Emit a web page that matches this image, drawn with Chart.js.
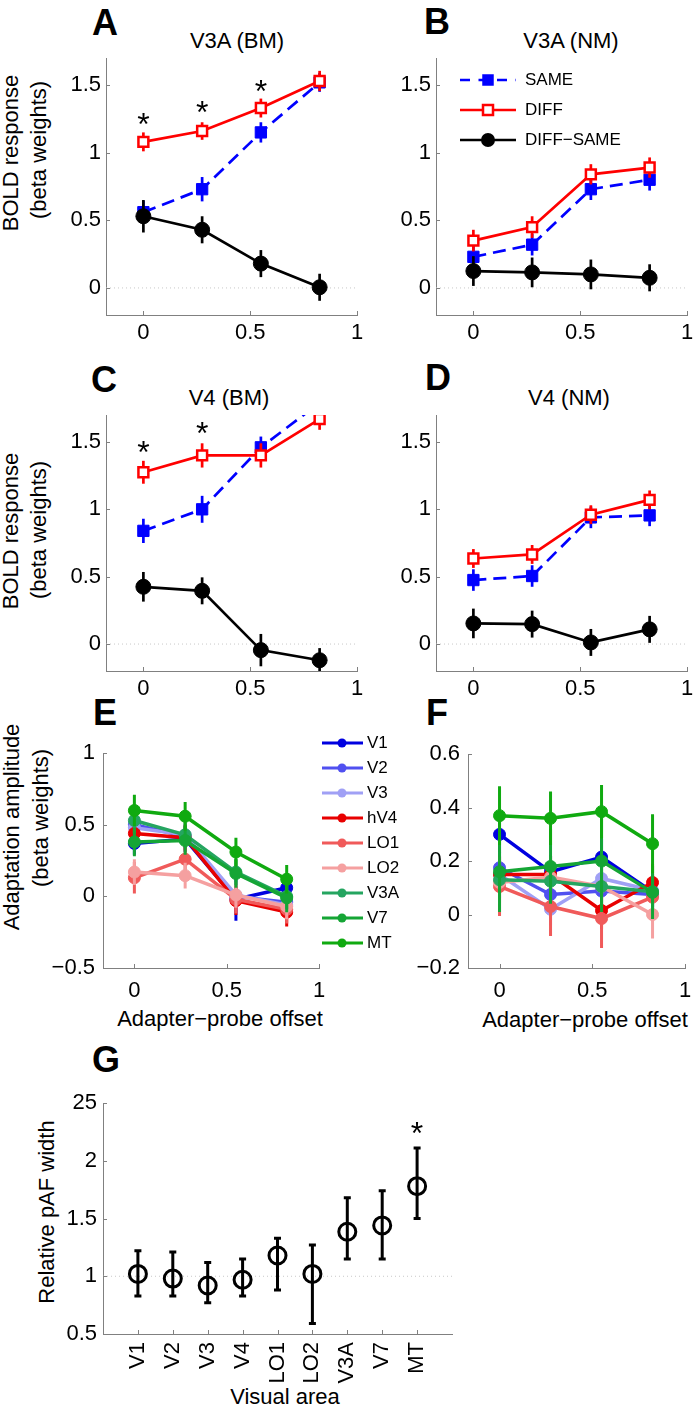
<!DOCTYPE html>
<html>
<head>
<meta charset="utf-8">
<script src="https://cdn.jsdelivr.net/npm/chart.js@4.4.0/dist/chart.umd.min.js"></script>
<style>
  body { margin: 0; background: #fff; width: 693px; height: 1411px; position: relative; overflow: hidden;
         font-family: "Liberation Sans", Arial, sans-serif; color: #000; }
  canvas { position: absolute; }
  .t { position: absolute; white-space: nowrap; transform: translate(-50%, -50%); font-size: 22px; }
  .rot { transform: translate(-50%, -50%) rotate(-90deg); }
  .letter { font-weight: bold; font-size: 36px; }
  .lg { position: absolute; white-space: nowrap; transform: translate(0, -50%); font-size: 17px; }
  #marks { position: absolute; left: 0; top: 0; }
</style>
</head>
<body>

<div class="t letter" style="left:105px;top:23px">A</div>
<div class="t letter" style="left:437px;top:22px">B</div>
<div class="t letter" style="left:104px;top:380px">C</div>
<div class="t letter" style="left:438px;top:378px">D</div>
<div class="t letter" style="left:105px;top:713px">E</div>
<div class="t letter" style="left:437px;top:713px">F</div>
<div class="t letter" style="left:106px;top:1060px">G</div>

<div class="t" style="left:237px;top:41px">V3A (BM)</div>
<div class="t" style="left:571px;top:41px">V3A (NM)</div>
<div class="t" style="left:229px;top:398px">V4 (BM)</div>
<div class="t" style="left:569px;top:398px">V4 (NM)</div>

<div class="t rot" style="left:11px;top:153px">BOLD response</div>
<div class="t rot" style="left:39px;top:150px">(beta weights)</div>
<div class="t rot" style="left:11px;top:531px">BOLD response</div>
<div class="t rot" style="left:39px;top:530px">(beta weights)</div>
<div class="t rot" style="left:12px;top:827px">Adaptation amplitude</div>
<div class="t rot" style="left:41px;top:818px">(beta weights)</div>
<div class="t rot" style="left:47px;top:1212px">Relative pAF width</div>

<div class="t" style="left:220px;top:1019px">Adapter−probe offset</div>
<div class="t" style="left:585px;top:1020px">Adapter−probe offset</div>
<div class="t" style="left:285px;top:1397px">Visual area</div>

<svg id="marks" width="693" height="1411"></svg>

<script>
// ---- data ----
const offsets = [0, 0.275, 0.55, 0.825];
const offsetTicks = [0, 0.5, 1];
const boldTicks = [0, 0.5, 1, 1.5];
const ampTicksE = [-0.5, 0, 0.5, 1];
const ampTicksF = [-0.2, 0, 0.2, 0.4, 0.6];

// A: V3A (BM)
const aSame = [0.56, 0.73, 1.15, 1.52];
const aSameErr = [0.085, 0.09, 0.075, 0.07];
const aDiff = [1.08, 1.16, 1.33, 1.53];
const aDiffErr = [0.07, 0.065, 0.07, 0.075];
const aDelta = [0.53, 0.43, 0.18, 0.005];
const aDeltaErr = [0.12, 0.1, 0.1, 0.1];
const aStars = [1.25, 1.34, 1.49];

// B: V3A (NM)
const bSame = [0.23, 0.32, 0.73, 0.80];
const bSameErr = [0.08, 0.08, 0.08, 0.08];
const bDiff = [0.35, 0.45, 0.84, 0.89];
const bDiffErr = [0.08, 0.08, 0.075, 0.075];
const bDelta = [0.125, 0.115, 0.10, 0.075];
const bDeltaErr = [0.11, 0.11, 0.11, 0.1];

// C: V4 (BM)
const cSame = [0.84, 1.0, 1.46, 1.79];
const cSameErr = [0.09, 0.1, 0.08, 0.08];
const cDiff = [1.275, 1.40, 1.40, 1.67];
const cDiffErr = [0.085, 0.09, 0.09, 0.08];
const cDelta = [0.425, 0.395, -0.045, -0.12];
const cDeltaErr = [0.11, 0.1, 0.12, 0.09];
const cStars = [1.46, 1.60];

// D: V4 (NM)
const dSame = [0.475, 0.505, 0.94, 0.955];
const dSameErr = [0.08, 0.08, 0.08, 0.08];
const dDiff = [0.635, 0.665, 0.96, 1.07];
const dDiffErr = [0.07, 0.07, 0.07, 0.07];
const dDelta = [0.153, 0.148, 0.012, 0.109];
const dDeltaErr = [0.11, 0.1, 0.1, 0.1];

// E/F: adaptation amplitude per visual area
const areas = ['V1', 'V2', 'V3', 'hV4', 'LO1', 'LO2', 'V3A', 'V7', 'MT'];
const areaColors = ['#0000e0', '#5050f0', '#a0a0f5', '#e80000', '#f05a5a', '#f5a0a0', '#25a560', '#15a535', '#10aa10'];
const eAmp = [
  [0.37, 0.40, -0.02, 0.06],
  [0.50, 0.42, 0.0, -0.04],
  [0.48, 0.43, 0.01, -0.06],
  [0.44, 0.41, -0.03, -0.11],
  [0.13, 0.26, -0.02, -0.09],
  [0.17, 0.145, 0.01, -0.07],
  [0.53, 0.43, 0.17, 0.0],
  [0.38, 0.39, 0.16, -0.01],
  [0.60, 0.56, 0.31, 0.12]
];
const eErr = [
  [0.08, 0.09, 0.15, 0.07],
  [0.08, 0.08, 0.08, 0.08],
  [0.08, 0.08, 0.08, 0.08],
  [0.09, 0.09, 0.1, 0.1],
  [0.11, 0.1, 0.1, 0.1],
  [0.09, 0.09, 0.09, 0.09],
  [0.09, 0.09, 0.09, 0.09],
  [0.1, 0.1, 0.1, 0.1],
  [0.11, 0.1, 0.1, 0.1]
];
const fAmp = [
  [0.30, 0.16, 0.215, 0.085],
  [0.175, 0.075, 0.088, 0.075],
  [0.15, 0.02, 0.135, 0.09],
  [0.15, 0.15, 0.015, 0.12],
  [0.105, 0.03, -0.015, 0.065],
  [0.12, 0.14, 0.105, 0.0],
  [0.13, 0.125, 0.105, 0.085],
  [0.16, 0.18, 0.20, 0.083],
  [0.37, 0.36, 0.385, 0.265]
];
const fErr = [
  [0.07, 0.06, 0.07, 0.06],
  [0.06, 0.06, 0.06, 0.06],
  [0.06, 0.06, 0.06, 0.06],
  [0.07, 0.07, 0.07, 0.07],
  [0.11, 0.11, 0.11, 0.09],
  [0.08, 0.08, 0.08, 0.09],
  [0.07, 0.07, 0.07, 0.07],
  [0.15, 0.14, 0.19, 0.1],
  [0.11, 0.1, 0.1, 0.11]
];

// G: relative pAF width
const gCats = ['V1', 'V2', 'V3', 'V4', 'LO1', 'LO2', 'V3A', 'V7', 'MT'];
const gWidth = [1.02, 0.98, 0.92, 0.97, 1.18, 1.02, 1.385, 1.44, 1.78];
const gLow = [0.83, 0.83, 0.77, 0.83, 0.88, 0.59, 1.15, 1.15, 1.50];
const gHigh = [1.22, 1.21, 1.12, 1.15, 1.33, 1.27, 1.68, 1.74, 2.11];
const gYTicks = [0.5, 1, 1.5, 2, 2.5];
const gYLabels = ['0.5', '1', '1.5', '2', '25'];
const gStars = [2.28];

// ---- drawing helpers ----
const AXIS = '#808080';
const fmt = v => (v < 0 ? '\u2212' : '') + Math.abs(v);

const extras = {
  id: 'extras',
  beforeDatasetsDraw(chart, args, opts) {
    if (opts.refY === undefined) return;
    const { ctx, chartArea: a } = chart;
    const py = chart.scales.y.getPixelForValue(opts.refY);
    ctx.save();
    ctx.strokeStyle = '#c8c8c8';
    ctx.lineWidth = 1;
    ctx.setLineDash([1, 3]);
    ctx.beginPath();
    ctx.moveTo(a.left, py);
    ctx.lineTo(a.right, py);
    ctx.stroke();
    ctx.restore();
  },
  beforeDatasetDraw(chart, args) {
    const ds = chart.data.datasets[args.index];
    if (!ds.err && !ds.lo) return;
    const { ctx, chartArea: a } = chart;
    const xs = chart.scales.x, ys = chart.scales.y;
    ctx.save();
    ctx.beginPath();
    ctx.rect(a.left, a.top, a.right - a.left, a.bottom - a.top);
    ctx.clip();
    ctx.strokeStyle = ds.pointBorderColor;
    ctx.lineWidth = ds.errWidth || 2.7;
    ctx.setLineDash([]);
    ds.data.forEach((p, i) => {
      const x = xs.getPixelForValue(p.x);
      const lo = ds.lo ? ds.lo[i] : p.y - ds.err[i];
      const hi = ds.hi ? ds.hi[i] : p.y + ds.err[i];
      const y1 = ys.getPixelForValue(lo), y2 = ys.getPixelForValue(hi);
      ctx.beginPath();
      ctx.moveTo(x, y1);
      ctx.lineTo(x, y2);
      if (ds.cap) {
        ctx.moveTo(x - ds.cap, y1); ctx.lineTo(x + ds.cap, y1);
        ctx.moveTo(x - ds.cap, y2); ctx.lineTo(x + ds.cap, y2);
      }
      ctx.stroke();
    });
    ctx.restore();
  },
  afterDraw(chart, args, opts) {
    const { ctx, chartArea: a } = chart;
    const xs = chart.scales.x, ys = chart.scales.y;
    ctx.save();
    // inward ticks, matlab style
    ctx.strokeStyle = AXIS;
    ctx.lineWidth = 1;
    xs.ticks.forEach(t => {
      const px = Math.round(xs.getPixelForValue(t.value)) + 0.5;
      ctx.beginPath(); ctx.moveTo(px, a.bottom); ctx.lineTo(px, a.bottom - 4); ctx.stroke();
    });
    ys.ticks.forEach(t => {
      const py = Math.round(ys.getPixelForValue(t.value)) + 0.5;
      ctx.beginPath(); ctx.moveTo(a.left, py); ctx.lineTo(a.left + 4, py); ctx.stroke();
    });
    // significance stars
    if (opts.starX) {
      ctx.fillStyle = '#000';
      ctx.font = '32px "Liberation Sans", Arial, sans-serif';
      ctx.textAlign = 'center';
      ctx.textBaseline = 'alphabetic';
      const m = ctx.measureText('*');
      const off = (m.actualBoundingBoxAscent - m.actualBoundingBoxDescent) / 2;
      opts.starX.forEach((v, i) => {
        ctx.fillText('*', xs.getPixelForValue(v), ys.getPixelForValue(opts.starY[i]) + off);
      });
    }
    ctx.restore();
  }
};
Chart.register(extras);

const PL = 80, PR = 20, PT = 20;

function panel(box, xr, yr, xTicks, yTicks, datasets, ext, o = {}) {
  const pb = o.pb || 50;
  const left = Math.round(box.l) - PL, top = Math.round(box.t) - PT;
  const w = Math.round(box.r) - Math.round(box.l) + PL + PR;
  const h = Math.round(box.b) - Math.round(box.t) + PT + pb;
  const cv = document.createElement('canvas');
  cv.width = w; cv.height = h;
  cv.style.left = left + 'px'; cv.style.top = top + 'px';
  cv.style.width = w + 'px'; cv.style.height = h + 'px';
  document.body.insertBefore(cv, document.getElementById('marks'));
  const tickFont = { family: '"Liberation Sans", Arial, sans-serif', size: 22 };
  return new Chart(cv.getContext('2d'), {
    type: 'scatter',
    data: { datasets },
    options: {
      responsive: false,
      animation: false,
      layout: { padding: { left: 0, top: PT, right: PR, bottom: 0 } },
      plugins: { legend: { display: false }, tooltip: { enabled: false }, extras: ext },
      scales: {
        x: {
          type: 'linear', min: xr[0], max: xr[1],
          afterBuildTicks: s => { s.ticks = xTicks.map(v => ({ value: v })); },
          afterFit: s => { s.height = pb; },
          grid: { display: true, drawOnChartArea: false, drawTicks: false },
          border: { color: AXIS, width: 1 },
          ticks: {
            color: '#000', font: tickFont, padding: o.xPad || 5, autoSkip: false,
            maxRotation: o.rot || 0, minRotation: o.rot || 0,
            callback: o.xLabels ? (v => o.xLabels[xTicks.indexOf(v)]) : fmt
          }
        },
        y: {
          type: 'linear', min: yr[0], max: yr[1],
          afterBuildTicks: s => { s.ticks = yTicks.map(v => ({ value: v })); },
          afterFit: s => { s.width = PL; },
          grid: { display: true, drawOnChartArea: false, drawTicks: false },
          border: { color: AXIS, width: 1 },
          ticks: {
            color: '#000', font: tickFont, padding: o.yPad || 5,
            callback: o.yLabels ? (v => o.yLabels[yTicks.indexOf(v)]) : fmt
          }
        }
      }
    }
  });
}

const pts = (ys, xs = offsets) => ys.map((y, i) => ({ x: xs[i], y }));

function boldSets(same, sameErr, diff, diffErr, delta, deltaErr, sameClip) {
  const same_ds = {
    data: pts(same), err: sameErr, showLine: true, order: 3,
    borderColor: '#0000ff', borderWidth: 2.7, borderDash: [13, 7],
    pointStyle: 'rect', pointRadius: 8, pointBackgroundColor: '#0000ff', pointBorderColor: '#0000ff', pointBorderWidth: 1
  };
  if (sameClip !== undefined) same_ds.clip = sameClip;
  return [
    {
      data: pts(diff), err: diffErr, showLine: true, order: 1,
      borderColor: '#ff0000', borderWidth: 2.7,
      pointStyle: 'rect', pointRadius: 7, pointBackgroundColor: '#ffffff', pointBorderColor: '#ff0000', pointBorderWidth: 2.5
    },
    {
      data: pts(delta), err: deltaErr, showLine: true, order: 2,
      borderColor: '#000000', borderWidth: 2.7,
      pointStyle: 'circle', pointRadius: 7.5, pointBackgroundColor: '#000000', pointBorderColor: '#000000', pointBorderWidth: 1
    },
    same_ds
  ];
}

function areaSets(amp, err) {
  return areas.map((name, i) => ({
    label: name, data: pts(amp[i]), err: err[i], showLine: true, order: areas.length - i,
    borderColor: areaColors[i], borderWidth: 3.5, errWidth: 3,
    pointStyle: 'circle', pointRadius: 6, pointBackgroundColor: areaColors[i], pointBorderColor: areaColors[i], pointBorderWidth: 1
  }));
}

const xrBold = [-0.175, 1], yrBold = [-0.2, 1.7];

panel({ l: 105.5, r: 357, t: 58, b: 315 }, xrBold, yrBold, offsetTicks, boldTicks,
  boldSets(aSame, aSameErr, aDiff, aDiffErr, aDelta, aDeltaErr),
  { refY: 0, starX: offsets.slice(0, 3), starY: aStars });

panel({ l: 435.5, r: 687, t: 58, b: 315 }, xrBold, yrBold, offsetTicks, boldTicks,
  boldSets(bSame, bSameErr, bDiff, bDiffErr, bDelta, bDeltaErr),
  { refY: 0 });

panel({ l: 105.5, r: 357, t: 414.5, b: 671 }, xrBold, yrBold, offsetTicks, boldTicks,
  boldSets(cSame, cSameErr, cDiff, cDiffErr, cDelta, cDeltaErr, 0),
  { refY: 0, starX: offsets.slice(0, 2), starY: cStars });

panel({ l: 435.5, r: 687, t: 414.5, b: 671 }, xrBold, yrBold, offsetTicks, boldTicks,
  boldSets(dSame, dSameErr, dDiff, dDiffErr, dDelta, dDeltaErr),
  { refY: 0 });

panel({ l: 102.7, r: 319.3, t: 752, b: 968 }, [-0.17, 1], [-0.5, 1], offsetTicks, ampTicksE,
  areaSets(eAmp, eErr), {}, { xPad: 10, yPad: 8 });

panel({ l: 468, r: 685, t: 753, b: 968 }, [-0.17, 1], [-0.2, 0.6], offsetTicks, ampTicksF,
  areaSets(fAmp, fErr), {}, { xPad: 10, yPad: 8 });

const gX = gCats.map((c, i) => i + 1);
panel({ l: 103, r: 452, t: 1103, b: 1334 }, [0, 10], [0.5, 2.5], gX, gYTicks,
  [{
    data: pts(gWidth, gX), lo: gLow, hi: gHigh, cap: 3.5, errWidth: 3,
    pointStyle: 'circle', pointRadius: 8.5, pointBackgroundColor: 'rgba(0,0,0,0)', pointBorderColor: '#000', pointBorderWidth: 3
  }],
  { refY: 1, starX: [9], starY: gStars },
  { pb: 70, rot: 90, xPad: 8, yPad: 6, xLabels: gCats, yLabels: gYLabels });

// ---- legends (line + marker swatches) ----
const svg = document.getElementById('marks');
const NS = 'http://www.w3.org/2000/svg';
function el(tag, attrs) {
  const e = document.createElementNS(NS, tag);
  for (const k in attrs) e.setAttribute(k, attrs[k]);
  svg.appendChild(e);
  return e;
}
function label(text, x, y) {
  const d = document.createElement('div');
  d.className = 'lg';
  d.style.left = x + 'px'; d.style.top = y + 'px';
  d.textContent = text;
  document.body.appendChild(d);
}

// panel B legend
const boldLegend = [
  { name: 'SAME', color: '#0000ff', dash: '10 8.5', marker: 'rect', fill: '#0000ff' },
  { name: 'DIFF', color: '#ff0000', dash: '', marker: 'rect', fill: '#ffffff' },
  { name: 'DIFF\u2212SAME', color: '#000000', dash: '', marker: 'circle', fill: '#000000' }
];
boldLegend.forEach((it, i) => {
  const y = 80 + i * 30;
  el('line', { x1: 460, y1: y, x2: 516, y2: y, stroke: it.color, 'stroke-width': 2.7, 'stroke-dasharray': it.dash });
  if (it.marker === 'rect') el('rect', { x: 483, y: y - 5, width: 10, height: 10, fill: it.fill, stroke: it.color, 'stroke-width': it.fill === '#ffffff' ? 2.5 : 1.5 });
  else el('circle', { cx: 488, cy: y, r: 7, fill: it.fill });
  label(it.name, 525, y);
});

// panel E legend
areas.forEach((name, i) => {
  const y = 743 + i * 25;
  el('line', { x1: 322, y1: y, x2: 363, y2: y, stroke: areaColors[i], 'stroke-width': 3 });
  el('circle', { cx: 342, cy: y, r: 4.5, fill: areaColors[i] });
  label(name, 367, y);
});
</script>
</body>
</html>
